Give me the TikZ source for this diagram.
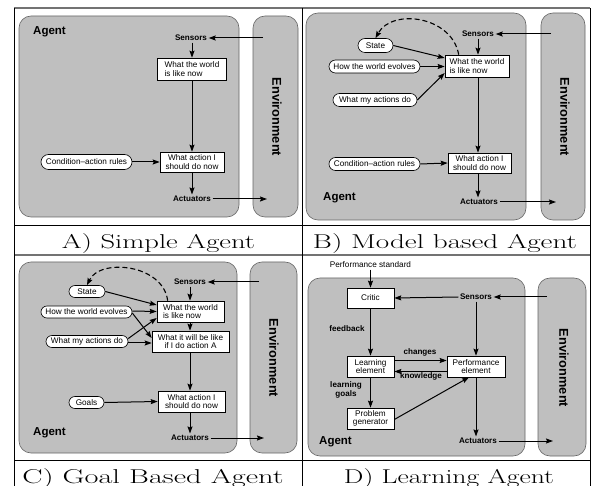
\documentclass[tikz,border=0pt]{standalone}
\usepackage{fontspec}
\usepackage{graphicx}
\newfontfamily\sansf{Liberation Sans}
\usetikzlibrary{arrows.meta}

% fonts used in the four agent diagrams
\newcommand\lblfont{\sansf\fontsize{8.2}{8.4}\selectfont}
\newcommand\tagfont{\sansf\bfseries\fontsize{8.1}{8.8}\selectfont}
\newcommand\agentfont{\sansf\bfseries\fontsize{11.5}{12}\selectfont}
\newcommand\envfont{\sansf\bfseries\fontsize{12.8}{13}\selectfont}
% wide serif caption under each diagram
\newcommand\captext[2]{\resizebox{#1}{15pt}{\fontsize{20}{20}\selectfont #2}}

\tikzset{
  agentbox/.style={draw=black!60, fill=black!25, rounded corners=12pt, line width=0.6pt, inner sep=0pt},
  infobox/.style={draw, fill=white, line width=0.6pt, font=\lblfont, align=center, inner sep=1pt},
  leftbox/.style={infobox, align=left},
  pill/.style={draw, fill=white, line width=0.6pt, font=\lblfont, inner xsep=3pt, inner ysep=0.5pt},
  tag/.style={font=\tagfont, inner sep=1.5pt, align=center},
  agentlbl/.style={font=\agentfont, inner sep=0pt, anchor=west},
  envlbl/.style={font=\envfont, inner sep=0pt, rotate=-90},
  arr/.style={-{Stealth[length=7pt,width=5pt,inset=1pt]}, line width=1pt},
  dashcurve/.style={arr, line width=1.1pt, dash pattern=on 5pt off 3pt},
  captionlbl/.style={inner sep=0pt, anchor=base},
  gridthin/.style={line width=0.8pt, black},
  gridthick/.style={line width=1.6pt, black!55},
}

\begin{document}
\begin{tikzpicture}[x=1pt, y=-1pt]
\useasboundingbox (0,0) rectangle (592,486);

% ---------- table grid ----------
\draw[gridthick] (14,8) -- (590,8);
\draw[gridthick] (14,255) -- (590,255);
\draw[gridthin] (14,225) -- (590,225);
\draw[gridthin] (14,460) -- (590,460);
\draw[gridthin] (14,8) -- (14,486);
\draw[gridthin] (302,8) -- (302,486);
\draw[gridthin] (590,8) -- (590,486);

% ---------- A) simple reflex agent ----------
\node[agentbox, minimum width=220pt, minimum height=201pt] (a-agent) at (129,116.5) {};
\node[agentbox, minimum width=45pt, minimum height=201pt] (a-env) at (275.5,116.5) {};
\node[agentlbl] (a-agentlbl) at (33,32) {Agent};
\node[envlbl] (a-envlbl) at (277,117) {Environment};
\node[tag] (a-sens) at (191,38) {Sensors};
\node[leftbox, minimum width=69pt, minimum height=22pt] (a-world) at (192,69) {What the world\\is like now};
\node[infobox, minimum width=64pt, minimum height=20pt] (a-act) at (192,162) {What action I\\should do now};
\node[pill, rounded corners=7.5pt, minimum width=91pt, minimum height=15pt] (a-rules) at (86.5,162) {Condition–action rules};
\node[tag] (a-actu) at (192,199) {Actuators};
\coordinate (a-in) at (263,38);
\coordinate (a-out) at (267,199);
\draw[arr] (a-in) -- (a-sens.east);
\draw[arr] (a-sens.south -| a-world.north) -- (a-world.north);
\draw[arr] (a-world.south) -- (a-act.north);
\draw[arr] (a-rules.east) -- (a-act.west);
\draw[arr] (a-act.south) -- (a-act.south |- a-actu.north);
\draw[arr] (a-actu.east) -- (a-out);

% ---------- B) model-based reflex agent ----------
\node[agentbox, minimum width=220pt, minimum height=207pt] (b-agent) at (416,116.5) {};
\node[agentbox, minimum width=44pt, minimum height=207pt] (b-env) at (563,116.5) {};
\node[agentlbl] (b-agentlbl) at (323,198) {Agent};
\node[envlbl] (b-envlbl) at (565,117) {Environment};
\node[tag] (b-sens) at (478,34) {Sensors};
\node[leftbox, minimum width=64pt, minimum height=22pt] (b-world) at (477,66) {What the world\\is like now};
\node[pill, rounded corners=7pt, minimum width=35pt, minimum height=14pt] (b-state) at (375.5,45.5) {State};
\node[pill, rounded corners=6.5pt, minimum width=91pt, minimum height=13pt] (b-how) at (374.5,66.5) {How the world evolves};
\node[pill, rounded corners=6.5pt, minimum width=84pt, minimum height=13pt] (b-what) at (375,100) {What my actions do};
\node[infobox, minimum width=63pt, minimum height=20pt] (b-act) at (479.5,163) {What action I\\should do now};
\node[pill, rounded corners=6.5pt, minimum width=91pt, minimum height=13pt] (b-rules) at (374.5,164) {Condition–action rules};
\node[tag] (b-actu) at (479,202) {Actuators};
\coordinate (b-in) at (551,34);
\coordinate (b-out) at (556,202);
\draw[arr] (b-in) -- (b-sens.east);
\draw[arr] (b-sens.south) -- (b-sens.south |- b-world.north);
\draw[dashcurve] ([xshift=14pt]b-world.north west) .. controls (452,16) and (392,8) .. (b-state.north);
\draw[arr] (b-state.east) -- ([yshift=8pt]b-world.west);
\draw[arr] (b-how.east) -- (b-how.east -| b-world.west);
\draw[arr] (b-what.east) -- ([yshift=-7pt]b-world.west);
\draw[arr] (b-sens.south |- b-world.south) -- (b-sens.south |- b-act.north);
\draw[arr] (b-rules.east) -- (b-act.west);
\draw[arr] (b-sens.south |- b-act.south) -- (b-sens.south |- b-actu.north);
\draw[arr] (b-actu.east) -- (b-out);

% ---------- C) goal-based agent ----------
\node[agentbox, minimum width=218pt, minimum height=191pt] (c-agent) at (128,357.5) {};
\node[agentbox, minimum width=47pt, minimum height=191pt] (c-env) at (273.5,357.5) {};
\node[agentlbl] (c-agentlbl) at (33,433) {Agent};
\node[envlbl] (c-envlbl) at (274,358) {Environment};
\node[tag] (c-sens) at (190,282) {Sensors};
\node[pill, rounded corners=6pt, minimum width=36pt, minimum height=12pt] (c-state) at (87,291.5) {State};
\node[pill, rounded corners=6pt, minimum width=91pt, minimum height=12pt] (c-how) at (86.5,312) {How the world evolves};
\node[pill, rounded corners=6pt, minimum width=82pt, minimum height=12pt] (c-what) at (87,341.5) {What my actions do};
\node[pill, rounded corners=6pt, minimum width=35pt, minimum height=12pt] (c-goals) at (86.5,402.5) {Goals};
\node[leftbox, minimum width=67pt, minimum height=21pt] (c-world) at (190.5,311.5) {What the world\\is like now};
\node[infobox, minimum width=77pt, minimum height=21pt] (c-will) at (190.5,341.5) {What it will be like\\if I do action A};
\node[infobox, minimum width=67pt, minimum height=21pt] (c-act) at (191.5,401.5) {What action I\\should do now};
\node[tag] (c-actu) at (190,438) {Actuators};
\coordinate (c-in) at (259,282);
\coordinate (c-out) at (264,438);
\draw[arr] (c-in) -- (c-sens.east);
\draw[arr] (c-sens.south) -- (c-sens.south |- c-world.north);
\draw[dashcurve] ([xshift=11pt]c-world.north west) .. controls (163,264) and (100,258) .. (c-state.north);
\draw[arr] (c-state.east) -- ([yshift=6.5pt]c-world.west);
\draw[arr] ([yshift=1pt]c-how.east) -- (c-world.west);
\draw[arr] ([yshift=-1pt]c-how.east) -- ([yshift=3.5pt]c-will.west);
\draw[arr] ([yshift=3pt]c-what.east) -- ([yshift=-6.5pt]c-world.west);
\draw[arr] ([yshift=-1.5pt]c-what.east) -- ([yshift=-1.5pt]c-will.west);
\draw[arr] (c-sens.south |- c-world.south) -- (c-sens.south |- c-will.north);
\draw[arr] (c-sens.south |- c-will.south) -- (c-sens.south |- c-act.north);
\draw[arr] (c-goals.east) -- (c-act.west);
\draw[arr] (c-sens.south |- c-act.south) -- (c-sens.south |- c-actu.north);
\draw[arr] (c-actu.east) -- (c-out);

% ---------- D) learning agent ----------
\node[agentbox, minimum width=217pt, minimum height=178pt] (d-agent) at (416.5,367) {};
\node[agentbox, minimum width=48pt, minimum height=178pt] (d-env) at (562,367) {};
\node[agentlbl] (d-agentlbl) at (319,442) {Agent};
\node[envlbl] (d-envlbl) at (564,368) {Environment};
\node[font=\lblfont, inner sep=1.5pt] (d-std) at (370.5,265) {Performance standard};
\node[infobox, minimum width=47pt, minimum height=20pt] (d-critic) at (370.5,298) {Critic};
\node[tag] (d-sens) at (476,297) {Sensors};
\node[infobox, minimum width=47pt, minimum height=21pt] (d-learn) at (370.5,366.5) {Learning\\element};
\node[infobox, minimum width=58pt, minimum height=21pt] (d-perf) at (476,366.5) {Performance\\element};
\node[infobox, minimum width=47pt, minimum height=21pt] (d-prob) at (370.5,418.5) {Problem\\generator};
\node[tag] (d-actu) at (478,441) {Actuators};
\node[tag] (d-feed) at (347,329) {feedback};
\node[tag] (d-chg) at (420,352) {changes};
\node[tag] (d-know) at (421,376.5) {knowledge};
\node[tag] (d-goal) at (346,390) {learning\\goals};
\coordinate (d-in) at (547,297);
\coordinate (d-out) at (553,441);
\draw[arr] (d-std.south) -- (d-std.south |- d-critic.north);
\draw[arr] (d-in) -- (d-sens.east);
\draw[arr] (d-sens.west) -- (d-critic.east);
\draw[arr] (d-sens.south) -- (d-sens.south |- d-perf.north);
\draw[arr] (d-critic.south) -- (d-learn.north);
\draw[arr] ([yshift=6pt]d-learn.east) -- ([yshift=6pt]d-perf.west);
\draw[arr] ([yshift=-5pt]d-perf.west) -- ([yshift=-5pt]d-learn.east);
\draw[arr] (d-learn.south) -- (d-prob.north);
\draw[arr] ([yshift=-1pt]d-prob.east) -- ([xshift=-7pt]d-perf.south);
\draw[arr] (d-perf.south) -- (d-perf.south |- d-actu.north);
\draw[arr] (d-actu.east) -- (d-out);

% ---------- captions ----------
\node[captionlbl] (capA) at (158.5,249) {\captext{193pt}{A) Simple Agent}};
\node[captionlbl] (capB) at (445,249) {\captext{264pt}{B) Model based Agent}};
\node[captionlbl] (capC) at (153,483) {\captext{261pt}{C) Goal Based Agent}};
\node[captionlbl] (capD) at (449,483) {\captext{210pt}{D) Learning Agent}};
\end{tikzpicture}
\end{document}
